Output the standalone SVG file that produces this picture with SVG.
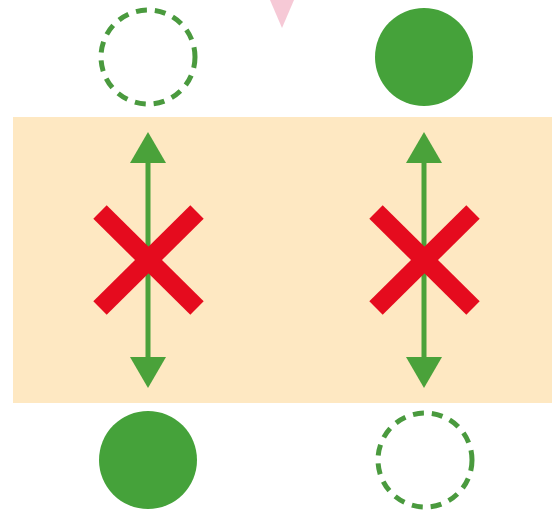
<svg xmlns="http://www.w3.org/2000/svg" width="552" height="516" viewBox="0 0 552 516">
<style>
.dash{fill:none;stroke:#4a9a3e;stroke-width:5;stroke-dasharray:11 8}
.solid{fill:#45a23a}
.shaft{stroke:#4aa23a;stroke-width:5;fill:none}
.head{fill:#4aa23a}
.x{stroke:#e50b1e;stroke-width:19;stroke-linecap:butt}
</style>
<rect x="0" y="0" width="552" height="516" fill="#ffffff"/>
<polygon points="270,0 294,0 282,28" fill="#f6c9d6"/>
<rect id="band" x="13" y="117" width="539" height="286" fill="#fee8c2"/>
<g id="node-top-left"><circle class="dash" cx="148" cy="57" r="47"/></g>
<g id="node-top-right"><circle class="solid" cx="424" cy="57" r="49"/></g>
<g id="node-bottom-left"><circle class="solid" cx="148" cy="460" r="49"/></g>
<g id="node-bottom-right"><circle class="dash" cx="425" cy="460" r="47"/></g>
<g id="connectors">
  <line class="shaft" x1="148" y1="158" x2="148" y2="362"/>
  <polygon class="head" points="148,132 130,163 166,163"/>
  <polygon class="head" points="148,388 130,357 166,357"/>
  <line class="shaft" x1="424" y1="158" x2="424" y2="362"/>
  <polygon class="head" points="424,132 406,163 442,163"/>
  <polygon class="head" points="424,388 406,357 442,357"/>
</g>
<g id="cross-left">
  <line class="x" x1="100" y1="212" x2="197" y2="308"/>
  <line class="x" x1="197" y1="212" x2="100" y2="308"/>
</g>
<g id="cross-right">
  <line class="x" x1="376" y1="212" x2="473" y2="308"/>
  <line class="x" x1="473" y1="212" x2="376" y2="308"/>
</g>
</svg>
